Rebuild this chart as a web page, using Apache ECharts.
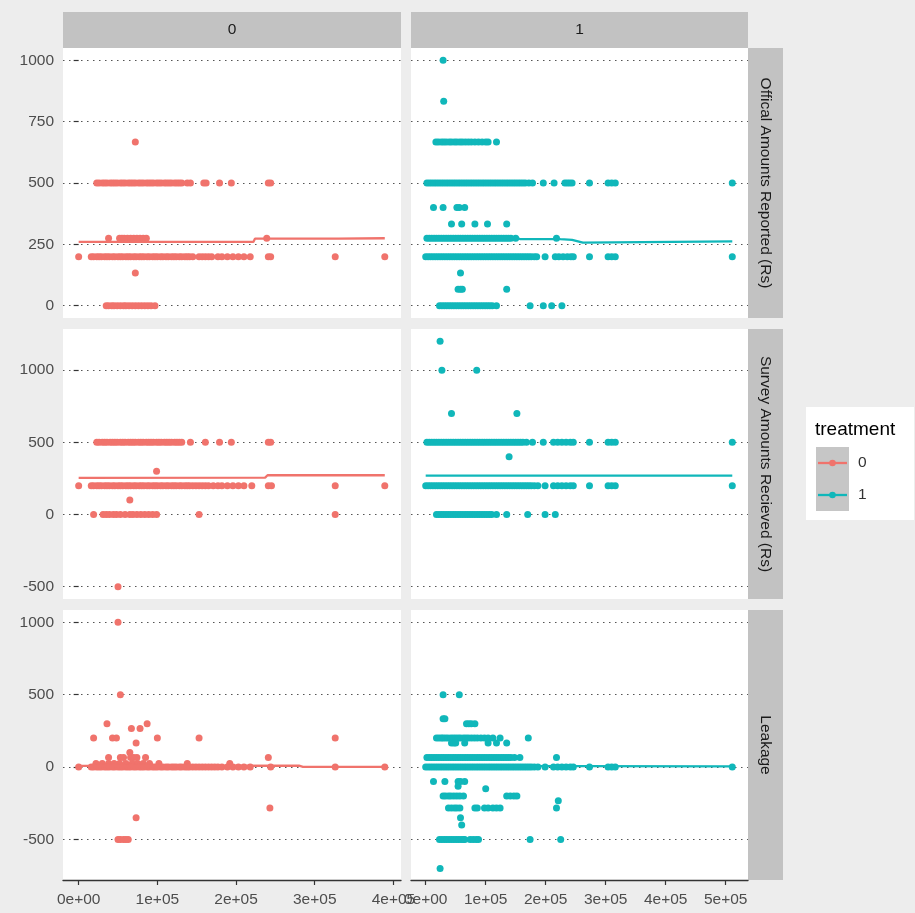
<!DOCTYPE html>
<html>
<head>
<meta charset="utf-8">
<script src="https://cdn.jsdelivr.net/npm/echarts@6/dist/echarts.min.js"></script>
<style>
html,body{margin:0;padding:0;background:#EDEDED;}
#chart{width:915px;height:913px;}
</style>
</head>
<body>
<div id="chart"></div>
<script>
// Facet labels
const treatments = ['0', '1'];
const measures = ['Offical Amounts Reported (Rs)', 'Survey Amounts Recieved (Rs)', 'Leakage'];
const legendTitle = 'treatment';

// Axis ticks (x in thousands)
const xTicks = [0, 100, 200, 300, 400, 500];
const xTickLabels = ['0e+00', '1e+05', '2e+05', '3e+05', '4e+05', '5e+05'];
const yTicksOfficial = [0, 250, 500, 750, 1000];
const yTicksSurvey = [-500, 0, 500, 1000];
const yTicksLeakage = [-500, 0, 500, 1000];

// Points: [amount, [x values in thousands]]
const officialCtrl = [
  [667, [72]],
  [500, [23,26,30,33,36,40,43,46,49,53,56,59,63,66,69,72,76,79,82,86,89,92,95,99,102,105,109,112,115,118,122,125,128,131,138,142,159,162,179,194,241,244]],
  [275, [38,52,55,58,62,66,70,74,78,82,86,239]],
  [200, [0,16,19,23,26,29,33,36,39,43,46,50,53,56,60,63,66,70,73,77,80,83,87,90,94,97,100,104,107,111,114,118,121,124,128,131,135,138,141,145,153,157,161,165,169,177,182,189,196,203,210,218,241,244,326,389]],
  [133, [72]],
  [0, [35,38,42,45,49,53,57,60,64,68,72,76,80,84,88,92,97]]
];
const officialTreat = [
  [1000, [29]],
  [833, [30]],
  [667, [17,21,26,30,34,39,43,48,52,57,61,66,71,76,82,88,94,100,104,118]],
  [500, [2,6,10,14,18,22,26,30,34,38,42,46,50,54,58,62,66,70,74,78,82,86,90,94,98,102,106,110,114,118,122,126,130,134,138,142,146,150,154,158,162,166,172,178,196,214,232,236,240,244,273,304,310,316,511]],
  [400, [13,29,52,56,65]],
  [333, [43,60,82,103,135]],
  [275, [2,6,10,14,18,22,26,30,34,38,42,46,50,54,58,62,66,70,74,78,82,86,90,94,98,102,106,110,114,118,122,126,130,134,138,142,150,218]],
  [200, [0,4,8,12,16,20,24,28,32,36,40,44,48,52,56,60,64,68,72,76,80,84,88,92,96,100,104,108,112,116,120,124,128,132,136,140,144,148,152,156,160,164,168,172,176,181,185,199,216,222,229,236,242,246,273,304,310,316,511]],
  [133, [58]],
  [67, [54,58,61,135]],
  [0, [23,27,31,35,39,43,47,51,55,59,63,67,71,75,79,83,87,91,95,99,103,107,111,118,174,196,210,227]]
];
const surveyCtrl = [
  [500, [23,26,30,33,36,40,43,46,49,53,56,59,63,66,69,72,76,79,82,86,89,92,95,99,102,105,109,112,115,118,122,125,128,131,142,161,179,194,241,244]],
  [300, [99]],
  [200, [0,16,19,23,26,29,33,36,39,43,46,50,53,56,60,63,66,70,73,77,80,83,87,90,94,97,100,104,107,111,114,118,121,124,128,131,135,138,141,145,149,153,157,161,165,171,177,182,189,196,203,210,220,241,245,326,389]],
  [100, [65]],
  [0, [19,31,35,39,44,48,53,59,65,69,74,79,84,89,94,99,153,326]],
  [-500, [50]]
];
const surveyTreat = [
  [1200, [24]],
  [1000, [27,85]],
  [700, [43,152]],
  [500, [2,6,10,14,18,22,26,30,34,38,42,46,50,54,58,62,66,70,74,78,82,86,90,94,98,102,106,110,114,118,122,126,130,134,138,142,146,150,154,158,162,168,178,196,213,220,227,234,241,246,273,304,310,316,511]],
  [400, [139]],
  [200, [0,4,8,12,16,20,24,28,32,36,40,44,48,52,56,60,64,68,72,76,80,84,88,92,96,100,104,108,112,116,120,124,128,132,136,140,144,148,152,156,160,164,168,172,176,181,187,199,213,220,227,234,241,246,273,304,310,316,511]],
  [0, [18,22,26,30,34,38,42,46,50,54,58,62,66,70,74,78,82,86,90,94,98,102,106,110,118,135,170,199,216]]
];
const leakageCtrl = [
  [1000, [50]],
  [500, [53]],
  [300, [36,87]],
  [267, [67,78]],
  [200, [19,43,48,100,153,326]],
  [167, [73]],
  [100, [65]],
  [67, [38,53,57,66,70,74,85,241]],
  [25, [22,30,38,45,52,60,68,75,82,90,102,138,192]],
  [0, [0,16,19,23,26,29,33,36,39,43,46,50,53,56,60,63,66,70,73,77,80,83,87,90,94,97,100,104,107,111,114,118,121,124,128,131,135,138,141,145,149,153,157,161,165,169,173,177,182,189,196,203,210,218,244,326,389]],
  [-283, [243]],
  [-350, [73]],
  [-500, [50,53,57,60,63]]
];
const leakageTreat = [
  [500, [29,56]],
  [333, [29,32]],
  [300, [68,72,76,82]],
  [200, [18,22,26,29,33,37,42,46,50,54,58,63,67,71,76,81,86,92,98,104,112,124,171]],
  [167, [43,47,50,65,104,118,135]],
  [67, [2,6,10,14,18,22,26,30,34,38,42,46,50,54,58,62,66,70,74,78,82,86,90,94,98,102,106,110,114,118,122,126,130,134,138,142,148,157,218]],
  [0, [0,4,8,12,16,20,24,28,32,36,40,44,48,52,56,60,64,68,72,76,80,84,88,92,96,100,104,108,112,116,120,124,128,132,136,140,144,148,152,156,160,164,168,172,176,181,187,199,213,220,227,234,241,246,273,304,310,316,511]],
  [-100, [13,32,54,58,65]],
  [-133, [54]],
  [-150, [100]],
  [-200, [29,33,38,42,47,52,57,63,135,141,147,152]],
  [-233, [221]],
  [-283, [38,43,48,52,57,82,86,98,104,112,118,124,218]],
  [-350, [58]],
  [-400, [60]],
  [-500, [23,27,31,35,39,43,47,51,55,59,63,65,74,79,84,88,174,225]],
  [-700, [24]]
];

// Group mean lines: [x in thousands, amount]
const officialCtrlLine = [[0,260],[222,260],[224,273],[330,273],[389,275]];
const officialTreatLine = [[0,277],[152,277],[158,271],[212,271],[218,276],[224,271],[244,268],[262,257],[511,262]];
const surveyCtrlLine = [[0,254],[237,256],[240,272],[389,272]];
const surveyTreatLine = [[0,270],[511,270]];
const leakageCtrlLine = [[0,8],[280,10],[285,2],[389,2]];
const leakageTreatLine = [[0,8],[511,5]];

const colors = ['#F0736C', '#10B7BA'];
const FONT = '"Liberation Sans", Arial, sans-serif';

// Layout of the facet panels
const colLeft = [63, 411], colWidth = [338, 337];
const rowTop = [48, 329, 610], rowHeight = [270, 270, 270];
const xRange = [[-19.9, 409.6], [-24.5, 537.2]];
const yRange = [[-50, 1050], [-585, 1285], [-780, 1085]];
const yTicks = [yTicksOfficial, yTicksSurvey, yTicksLeakage];
const xTicksPerCol = [xTicks.slice(0, 5), xTicks];

const pointSets = [[officialCtrl, officialTreat], [surveyCtrl, surveyTreat], [leakageCtrl, leakageTreat]];
const lineSets = [[officialCtrlLine, officialTreatLine], [surveyCtrlLine, surveyTreatLine], [leakageCtrlLine, leakageTreatLine]];

function flatten(groups) {
  const out = [];
  groups.forEach(([y, xs]) => xs.forEach(x => out.push([x, y])));
  return out;
}

const grids = [], xAxes = [], yAxes = [], series = [];
for (let r = 0; r < 3; r++) {
  for (let c = 0; c < 2; c++) {
    const i = r * 2 + c;
    grids.push({
      left: colLeft[c], top: rowTop[r], width: colWidth[c], height: rowHeight[r],
      show: true, backgroundColor: '#FFFFFF', borderWidth: 0
    });
    xAxes.push({
      type: 'value', gridIndex: i, min: xRange[c][0], max: xRange[c][1],
      show: r === 2,
      axisLine: { show: true, onZero: false, lineStyle: { color: '#333333', width: 1.3 } },
      axisTick: { show: true, length: 5, customValues: xTicksPerCol[c], lineStyle: { color: '#333333', width: 1.2 } },
      axisLabel: {
        customValues: xTicksPerCol[c], color: '#4D4D4D', fontSize: 15.5, fontFamily: FONT, margin: 12,
        formatter: v => xTickLabels[xTicks.indexOf(Math.round(v))] || ''
      },
      splitLine: { show: false }
    });
    yAxes.push({
      type: 'value', gridIndex: i, min: yRange[r][0], max: yRange[r][1],
      axisLine: { show: false },
      axisTick: { show: c === 0, length: 5, customValues: yTicks[r], lineStyle: { color: '#333333', width: 1.2 } },
      axisLabel: {
        show: c === 0, customValues: yTicks[r], color: '#4D4D4D', fontSize: 15.5, fontFamily: FONT, margin: 9,
        formatter: v => String(v)
      },
      splitLine: { show: true, lineStyle: { type: [1.5, 4.5], color: '#555555', width: 1.2 } }
    });
    series.push({
      type: 'scatter', xAxisIndex: i, yAxisIndex: i, data: flatten(pointSets[r][c]),
      symbol: 'circle', symbolSize: 7, itemStyle: { color: colors[c], opacity: 1 }, z: 2, silent: true
    });
    series.push({
      type: 'line', xAxisIndex: i, yAxisIndex: i, data: lineSets[r][c],
      showSymbol: false, lineStyle: { color: colors[c], width: 2.3 }, z: 3, silent: true
    });
  }
}

// Strips and legend
const graphics = [];
for (let c = 0; c < 2; c++) {
  graphics.push({ type: 'rect', shape: { x: colLeft[c], y: 12, width: colWidth[c], height: 36 }, style: { fill: '#C2C2C2' } });
  graphics.push({ type: 'text', x: colLeft[c] + colWidth[c] / 2, y: 30,
    style: { text: treatments[c], fill: '#1A1A1A', font: '15.5px ' + FONT, align: 'center', verticalAlign: 'middle' } });
}
for (let r = 0; r < 3; r++) {
  graphics.push({ type: 'rect', shape: { x: 748, y: rowTop[r], width: 35, height: rowHeight[r] }, style: { fill: '#C2C2C2' } });
  graphics.push({ type: 'text', x: 765.5, y: rowTop[r] + rowHeight[r] / 2, rotation: -Math.PI / 2,
    style: { text: measures[r], fill: '#1A1A1A', font: '15.5px ' + FONT, align: 'center', verticalAlign: 'middle' } });
}
graphics.push({ type: 'rect', shape: { x: 806, y: 407, width: 108, height: 113 }, style: { fill: '#FFFFFF' } });
graphics.push({ type: 'text', x: 815, y: 430, style: { text: legendTitle, fill: '#000000', font: '19px ' + FONT, verticalAlign: 'middle' } });
for (let k = 0; k < 2; k++) {
  const cy = 463 + k * 32;
  graphics.push({ type: 'rect', shape: { x: 816, y: cy - 16, width: 33, height: 32 }, style: { fill: '#C6C6C6' } });
  graphics.push({ type: 'line', shape: { x1: 818, y1: cy, x2: 847, y2: cy }, style: { stroke: colors[k], lineWidth: 2.3 } });
  graphics.push({ type: 'circle', shape: { cx: 832.5, cy: cy, r: 3.3 }, style: { fill: colors[k] } });
  graphics.push({ type: 'text', x: 858, y: cy, style: { text: treatments[k], fill: '#333333', font: '15.5px ' + FONT, verticalAlign: 'middle' } });
}

const chart = echarts.init(document.getElementById('chart'));
chart.setOption({
  backgroundColor: '#EDEDED',
  animation: false,
  grid: grids,
  xAxis: xAxes,
  yAxis: yAxes,
  series: series,
  graphic: { elements: graphics }
});
</script>
</body>
</html>
